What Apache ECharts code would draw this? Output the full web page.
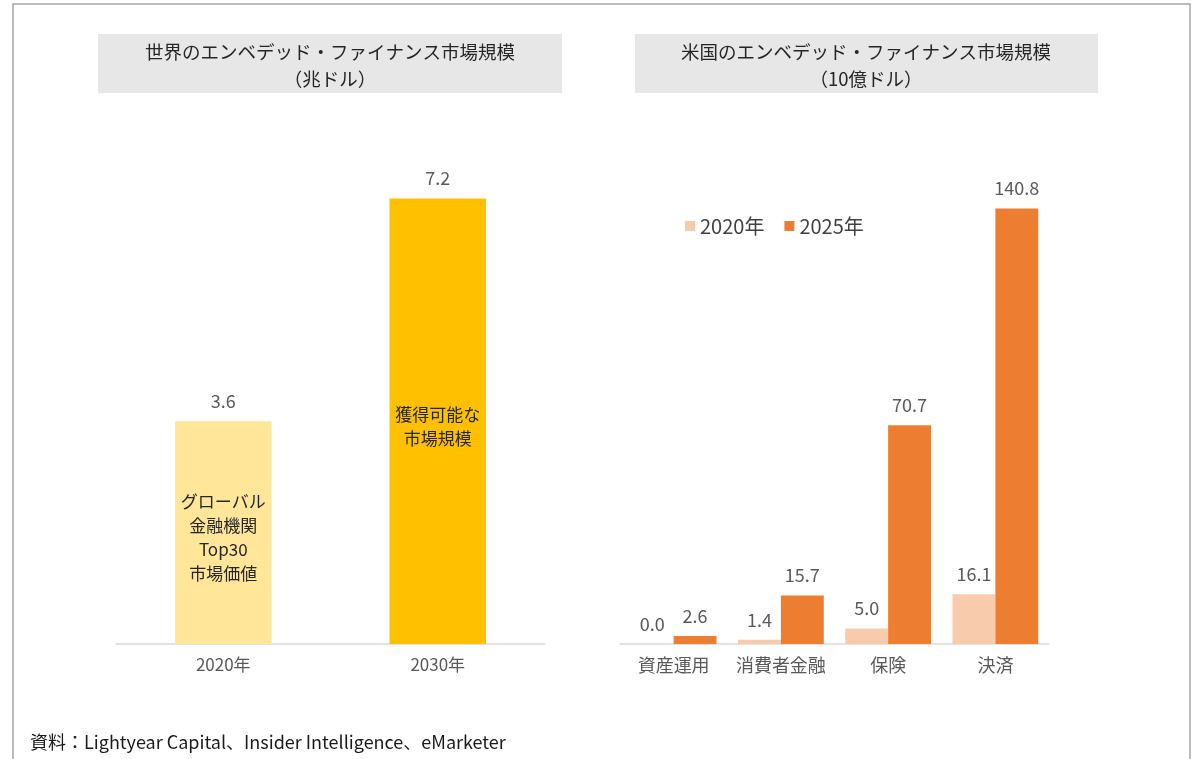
<!DOCTYPE html>
<html>
<head>
<meta charset="utf-8">
<script src="https://cdn.jsdelivr.net/npm/echarts@6/dist/echarts.min.js"></script>
<style>
  html, body { margin: 0; padding: 0; background: #fff; }
  #chart { width: 1201px; height: 759px; }
</style>
</head>
<body>
<div id="chart"></div>
<script>
// 世界市場（兆ドル）
const worldYears = ["2020年", "2030年"];
const worldValues = [3.6, 7.2];
const worldColors = ["#FFE699", "#FFC000"];
const worldInside = ["グローバル\n金融機関\nTop30\n市場価値", "獲得可能な\n市場規模"];

// 米国市場（10億ドル）
const usCategories = ["資産運用", "消費者金融", "保険", "決済"];
const us2020 = [0.0, 1.4, 5.0, 16.1];
const us2025 = [2.6, 15.7, 70.7, 140.8];

const FONT = "'Noto Sans CJK JP', 'Noto Sans', sans-serif";
const chart = echarts.init(document.getElementById("chart"), null, { renderer: "canvas" });

const valueLabel = {
  show: true,
  position: "top",
  distance: 11,
  color: "#595959",
  fontSize: 18,
  fontFamily: FONT,
  formatter: (p) => p.value.toFixed(1),
};

const catAxis = (gridIndex, data, size) => ({
  type: "category",
  gridIndex: gridIndex,
  data: data,
  axisLine: { lineStyle: { color: "#d9d9d9", width: 1.5 } },
  axisTick: { show: false },
  axisLabel: { interval: 0, color: "#595959", fontSize: size, fontFamily: FONT, margin: 12 },
});

const option = {
  animation: false,
  textStyle: { fontFamily: FONT },
  grid: [
    { left: 116, width: 429, top: 149, bottom: 115 },
    { left: 620, width: 429, top: 149, bottom: 115 },
  ],
  xAxis: [catAxis(0, worldYears, 17), catAxis(1, usCategories, 18)],
  yAxis: [
    { type: "value", gridIndex: 0, min: 0, max: 8, show: false },
    { type: "value", gridIndex: 1, min: 0, max: 160, show: false },
  ],
  legend: {
    data: ["2020年", "2025年"],
    left: 680,
    top: 211,
    icon: "rect",
    itemWidth: 10,
    itemHeight: 10,
    itemGap: 20,
    textStyle: { color: "#404040", fontSize: 20, fontFamily: FONT },
  },
  series: [
    {
      name: "world",
      type: "bar",
      xAxisIndex: 0,
      yAxisIndex: 0,
      barCategoryGap: "55%",
      data: worldValues.map((v, i) => ({ value: v, itemStyle: { color: worldColors[i] } })),
      label: valueLabel,
    },
    {
      name: "worldInside",
      type: "bar",
      xAxisIndex: 0,
      yAxisIndex: 0,
      barCategoryGap: "55%",
      barGap: "-100%",
      itemStyle: { color: "rgba(0,0,0,0)" },
      data: worldValues,
      label: {
        show: true,
        position: "inside",
        offset: [0, 5],
        color: "#262626",
        fontSize: 17,
        lineHeight: 24,
        fontFamily: FONT,
        formatter: (p) => worldInside[p.dataIndex],
      },
    },
    {
      name: "2020年",
      type: "bar",
      xAxisIndex: 1,
      yAxisIndex: 1,
      barCategoryGap: "20%",
      barGap: "0%",
      itemStyle: { color: "#F8CBAD" },
      data: us2020,
      label: valueLabel,
    },
    {
      name: "2025年",
      type: "bar",
      xAxisIndex: 1,
      yAxisIndex: 1,
      barCategoryGap: "20%",
      barGap: "0%",
      itemStyle: { color: "#ED7D31" },
      data: us2025,
      label: valueLabel,
    },
  ],
  graphic: [
    {
      type: "rect",
      shape: { x: 13, y: 4, width: 1177, height: 800 },
      style: { fill: "none", stroke: "#a6a6a6", lineWidth: 1.5 },
      silent: true,
    },
    {
      type: "rect",
      shape: { x: 98, y: 34, width: 464, height: 59 },
      style: { fill: "#e7e7e7" },
      silent: true,
    },
    {
      type: "text",
      x: 330,
      y: 65,
      style: {
        text: "世界のエンベデッド・ファイナンス市場規模\n（兆ドル）",
        align: "center",
        verticalAlign: "middle",
        fill: "#262626",
        fontSize: 18.5,
        lineHeight: 27,
        fontFamily: FONT,
      },
    },
    {
      type: "rect",
      shape: { x: 635, y: 34, width: 463, height: 59 },
      style: { fill: "#e7e7e7" },
      silent: true,
    },
    {
      type: "text",
      x: 866,
      y: 65,
      style: {
        text: "米国のエンベデッド・ファイナンス市場規模\n（10億ドル）",
        align: "center",
        verticalAlign: "middle",
        fill: "#262626",
        fontSize: 18.5,
        lineHeight: 27,
        fontFamily: FONT,
      },
    },
    {
      type: "text",
      x: 30,
      y: 742,
      style: {
        text: "資料：Lightyear Capital、Insider Intelligence、eMarketer",
        verticalAlign: "middle",
        fill: "#1a1a1a",
        fontSize: 18,
        fontFamily: FONT,
      },
    },
  ],
};

chart.setOption(option);
window.addEventListener("resize", () => chart.resize());
</script>
</body>
</html>
